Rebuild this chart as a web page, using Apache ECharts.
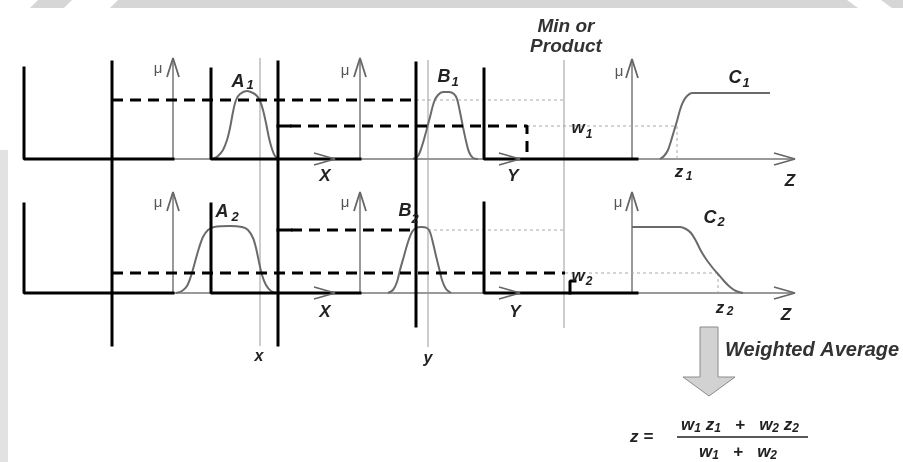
<!DOCTYPE html>
<html>
<head>
<meta charset="utf-8">
<script src="https://cdn.jsdelivr.net/npm/echarts@6/dist/echarts.min.js"></script>
<style>
html,body{margin:0;padding:0;background:#fff;}
#chart{width:903px;height:462px;}
</style>
</head>
<body>
<div id="chart"></div>
<script>
// ---- membership functions (diagram units: x along the page, y downward) ----
const curveA1 = [[213,159],[218,156],[223,150],[227,140],[230,128],[233,112],[236,100],[240,94],[247,91],[253,93],[257,96],[260,101],[263,110],[266,123],[269,138],[272,149],[275,156],[279,159]];
const curveB1 = [[413,159],[418,156],[422,146],[426,132],[430,117],[434,102],[438,95],[443,92],[449,92],[454,94],[457,99],[460,112],[463,127],[466,141],[469,152],[473,158],[478,159]];
const curveC1 = [[660,159],[664,156],[668,150],[671,141],[674,131],[677,121],[680,110],[683,102],[687,96],[692,93],[700,93],[770,93]];
const curveA2 = [[176,293],[182,291],[187,286],[191,276],[195,262],[199,248],[203,237],[208,230],[214,227],[230,226],[242,227],[248,230],[253,238],[256,248],[259,262],[262,275],[266,285],[271,291],[277,293]];
const curveB2 = [[388,293],[393,290],[397,282],[400,270],[404,256],[408,242],[412,232],[416,228],[421,227],[427,228],[430,232],[433,243],[436,256],[439,268],[442,280],[446,289],[451,293]];
const curveC2 = [[632,227],[680,227],[686,229],[691,233],[696,241],[701,251],[706,259],[712,267],[718,274],[724,281],[730,287],[736,291],[743,293]];

// ---- universes of discourse and μ axes ----
const universeAxes = [
  [[173,159],[334,159]], [[360,159],[519,159]], [[632,159],[794,159]],
  [[173,293],[334,293]], [[360,293],[519,293]], [[632,293],[794,293]],
  [[173,159],[173,59]], [[360,159],[360,59]], [[632,159],[632,60]],
  [[173,293],[173,193]], [[360,293],[360,193]], [[632,293],[632,193]]
];
const arrowHeads = [
  [[314,153],[335,159],[314,165]], [[499,153],[520,159],[499,165]], [[774,153],[795,159],[774,165]],
  [[314,287],[335,293],[314,299]], [[499,287],[520,293],[499,299]], [[774,287],[795,293],[774,299]],
  [[167,77],[173,58],[179,77]], [[354,77],[360,58],[366,77]], [[626,78],[632,59],[638,78]],
  [[167,211],[173,192],[179,211]], [[354,211],[360,192],[366,211]], [[626,211],[632,192],[638,211]]
];
// crisp inputs x, y and the min/product line
const inputLines = [[[260,58],[260,346]], [[428,60],[428,347]], [[564,60],[564,328]]];
// firing-strength guides
const guideLines = [
  [[416,100],[564,100]], [[527,126],[676,126]], [[677,126],[677,159]],
  [[428,230],[564,230]], [[565,273],[718,273]], [[718,273],[718,293]]
];
// heavy overlay strokes
const heavySolid = [
  [[24,68],[24,159],[173,159]], [[112,62],[112,345]], [[211,69],[211,159],[360,159]],
  [[278,62],[278,345]], [[416,63],[416,326]], [[484,69],[484,159],[637,159]],
  [[24,204],[24,293],[173,293]], [[211,204],[211,293],[360,293]],
  [[484,203],[484,293],[637,293]], [[570,293],[570,281],[575,281]],
  [[278,126],[290,126]], [[278,230],[291,230]]
];
const heavyDashed = [
  [[112,100],[416,100]], [[290,126],[527,126],[527,159]],
  [[112,273],[565,273]], [[291,230],[416,230]]
];
const fractionBar = [[677,437],[808,437]];
const weightedArrow = [[700,327],[718,327],[718,377],[735,377],[709,396],[683,377],[700,377]];

function lines(list, style, extra) {
  return list.map(d => Object.assign({
    type: 'line', data: d, symbol: 'none', silent: true, animation: false,
    lineStyle: style
  }, extra || {}));
}

const series = [].concat(
  lines(universeAxes, {color:'#777', width:1.5}),
  lines(guideLines, {color:'#aaa', width:1, type:[3,3]}),
  lines(inputLines, {color:'#999', width:1}),
  lines([curveA1, curveB1, curveC1, curveA2, curveB2, curveC2], {color:'#6a6a6a', width:2}, {smooth:0.3}),
  lines(heavySolid, {color:'#000', width:3, cap:'square'}),
  lines(heavyDashed, {color:'#000', width:3, type:[11,7]}),
  lines(arrowHeads, {color:'#666', width:1.8}),
  lines([fractionBar], {color:'#222', width:1.5}),
  [{
    type:'custom', silent:true, animation:false, data:[weightedArrow[0]],
    renderItem: function(params, api){
      return {type:'polygon', shape:{points: weightedArrow.map(p => api.coord(p))},
        style:{fill:'#d2d2d2', stroke:'#8a8a8a', lineWidth:1}};
    }
  }]
);

const BI = 'bold italic ';
const FF = '"Liberation Sans", Arial, sans-serif';
function txt(t, x, y, size, opts) {
  opts = opts || {};
  return {type:'text', x:x, y:y, z:100, silent:true, style:{
    text:t, font:(opts.plain ? '' : BI) + size + 'px ' + FF, fill: opts.fill || '#222',
    align: opts.align || 'center', verticalAlign:'middle',
    textAlign: opts.align || 'center', textVerticalAlign:'middle', rich: opts.rich
  }};
}
const richSub = {
  m:{font: BI + '17px ' + FF, fill:'#222', lineHeight:17},
  s:{font: BI + '12px ' + FF, fill:'#222', lineHeight:12, padding:[7,0,0,0]}
};

const graphic = [
  {type:'rect', silent:true, z:0, shape:{x:0,y:0,width:903,height:8}, style:{fill:'#d6d6d6'}},
  {type:'polygon', silent:true, z:1, shape:{points:[[0,0],[38,0],[30,8],[0,8]]}, style:{fill:'#fff'}},
  {type:'polygon', silent:true, z:1, shape:{points:[[72,0],[118,0],[110,8],[64,8]]}, style:{fill:'#fff'}},
  {type:'polygon', silent:true, z:1, shape:{points:[[847,0],[881,0],[892,8],[858,8]]}, style:{fill:'#fff'}},
  {type:'rect', silent:true, z:0, shape:{x:0,y:150,width:8,height:312}, style:{fill:'#e2e2e2'}},

  txt('μ',158,69,15,{plain:true,fill:'#555'}), txt('μ',345,71,15,{plain:true,fill:'#555'}), txt('μ',619,72,15,{plain:true,fill:'#555'}),
  txt('μ',158,203,15,{plain:true,fill:'#555'}), txt('μ',345,203,15,{plain:true,fill:'#555'}), txt('μ',618,203,15,{plain:true,fill:'#555'}),

  txt('A',238,82,18), txt('1',250,85,13),
  txt('B',444,77,18), txt('1',455,82,13),
  txt('C',735,78,18), txt('1',746,83,13),
  txt('A',222,212,18), txt('2',235,217,13),
  txt('B',405,211,18), txt('2',415,219,13),
  txt('C',710,218,18), txt('2',721,222,13),

  txt('X',325,176,17), txt('Y',513,176,17), txt('Z',790,181,17),
  txt('X',325,312,17), txt('Y',515,312,17), txt('Z',786,315,17),
  txt('z',679,172,17), txt('1',689,177,12),
  txt('z',720,308,17), txt('2',730,312,12),
  txt('w',578,128,17), txt('1',589,135,12),
  txt('w',578,276,17), txt('2',589,282,12),
  txt('x',259,357,16), txt('y',428,359,16),

  txt('Min or',566,27,19,{fill:'#333'}), txt('Product',566,47,19,{fill:'#333'}),
  txt('Weighted Average',725,350,20,{align:'left',fill:'#333'}),

  txt('z =',630,437,17,{align:'left'}),
  txt('{m|w}{s|1}{m| z}{s|1}{m|   +   w}{s|2}{m| z}{s|2}',740,425,17,{rich:richSub}),
  txt('{m|w}{s|1}{m|   +   w}{s|2}',738,452,17,{rich:richSub})
];

const chart = echarts.init(document.getElementById('chart'), null, {renderer:'canvas'});
chart.setOption({
  animation:false,
  backgroundColor:'#fff',
  grid:{left:0,right:0,top:0,bottom:0,containLabel:false,outerBoundsMode:'none'},
  xAxis:{type:'value',min:0,max:903,show:false},
  yAxis:{type:'value',min:0,max:462,inverse:true,show:false},
  series: series,
  graphic: graphic
});
</script>
</body>
</html>
